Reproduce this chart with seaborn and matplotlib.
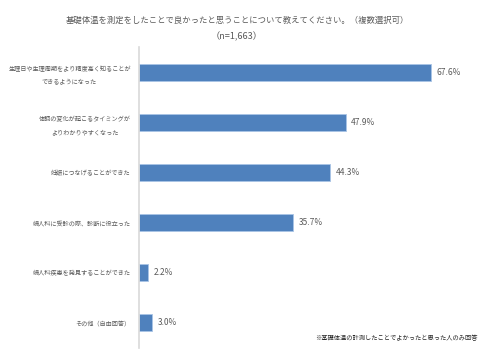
import matplotlib
matplotlib.use("Agg")
import matplotlib.pyplot as plt
import seaborn as sns
import pandas as pd

categories = [
    "生理日や生理周期をより精度高く知ることが\nできるようになった",
    "体調の変化が起こるタイミングが\nよりわかりやすくなった",
    "妊娠につなげることができた",
    "婦人科に受診の際、診断に役立った",
    "婦人科疾患を発見することができた",
    "その他（自由回答）",
]
values = [67.6, 47.9, 44.3, 35.7, 2.2, 3.0]
value_labels = ["67.6%", "47.9%", "44.3%", "35.7%", "2.2%", "3.0%"]
title = "基礎体温を測定をしたことで良かったと思うことについて教えてください。（複数選択可）"
subtitle = "（n=1,663）"
note = "※基礎体温の計測したことでよかったと思った人のみ回答"

sns.set_theme(style="white")
plt.rcParams['font.family'] = ['Noto Sans CJK JP', 'DejaVu Sans']

df = pd.DataFrame({"cat": categories, "val": values})

fig = plt.figure(figsize=(4.87, 3.5), dpi=100)
ax = fig.add_axes([139/487, 2/350, 341/487, 301/350])
sns.barplot(data=df, y="cat", x="val", ax=ax, color="#4f81bd", width=0.34,
            edgecolor="#a9c4e6", linewidth=0.6, saturation=1, orient="h")
ax.set_xlim(0, 341/4.315)
ax.set_ylim(5.5, -0.5)
ax.set_xlabel("")
ax.set_ylabel("")
ax.set_xticks([])
for s in ["top", "right", "bottom"]:
    ax.spines[s].set_visible(False)
ax.spines["left"].set_color("#d9d9d9")
ax.spines["left"].set_linewidth(1.2)
ax.tick_params(axis="y", length=0, pad=6)
ax.set_yticks(range(len(categories)))
ax.set_yticklabels(categories, fontsize=4.45, color="#595959",
                   multialignment="center", linespacing=1.75)

for i, (v, lab) in enumerate(zip(values, value_labels)):
    ax.text(v + 1.3, i, lab, va="center", ha="left", fontsize=6.0, color="#595959")

fig.text(237/487, 1 - 20/350, title, ha="center", va="center", fontsize=6.0,
         color="#595959")
fig.text(237/487, 1 - 37/350, subtitle, ha="center", va="center", fontsize=6.6,
         color="#595959")
fig.text(478/487, 1 - 338/350, note, ha="right", va="center", fontsize=4.5, color="#262626")

fig.savefig("out.png", dpi=100)
